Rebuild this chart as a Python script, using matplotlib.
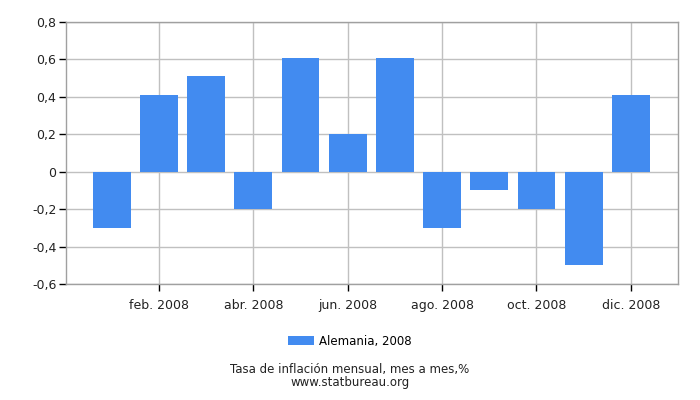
import matplotlib
matplotlib.use("Agg")
import matplotlib.pyplot as plt
from matplotlib.ticker import FuncFormatter

months = list(range(1, 13))
values = [-0.3, 0.41, 0.51, -0.2, 0.61, 0.2, 0.61, -0.3, -0.1, -0.2, -0.5, 0.41]
tick_months = [2, 4, 6, 8, 10, 12]
tick_labels = ["feb. 2008", "abr. 2008", "jun. 2008", "ago. 2008", "oct. 2008", "dic. 2008"]
yticks = [-0.6, -0.4, -0.2, 0, 0.2, 0.4, 0.6, 0.8]
series_name = "Alemania, 2008"
caption = "Tasa de inflación mensual, mes a mes,%"
source = "www.statbureau.org"

plt.rcParams["font.family"] = "DejaVu Sans"
fig = plt.figure(figsize=(7, 4), dpi=100)
ax = fig.add_axes([66 / 700, 1 - 284 / 400, 612 / 700, 262 / 400])

bar_color = "#428bf0"
ax.bar(months, values, width=0.8, color=bar_color, label=series_name, zorder=3)

ax.set_xlim(0.03, 13.0)
ax.set_ylim(-0.6, 0.8)
ax.set_xticks(tick_months)
ax.set_xticklabels(tick_labels)
ax.set_yticks(yticks)
ax.yaxis.set_major_formatter(FuncFormatter(lambda v, p: ("%g" % round(v, 1)).replace(".", ",")))

ax.grid(True, color="#c0c0c0", linewidth=1, zorder=0)
for s in ax.spines.values():
    s.set_color("#a0a0a0")
    s.set_linewidth(1)
ax.tick_params(axis="both", colors="black", labelcolor="#222222", labelsize=9, length=5, width=1)
ax.tick_params(axis="x", pad=6)
ax.tick_params(axis="y", pad=2)

leg = fig.legend(loc="center", bbox_to_anchor=(0.5, 1 - 341 / 400), frameon=False,
                 fontsize=8.5, handlelength=2.2, handleheight=0.9, handletextpad=0.4)
fig.text(0.5, 1 - 370 / 400, caption, ha="center", va="center", fontsize=8.5, color="#222222")
fig.text(0.5, 1 - 382.5 / 400, source, ha="center", va="center", fontsize=8.5, color="#222222")

fig.savefig("out.png", dpi=100)
